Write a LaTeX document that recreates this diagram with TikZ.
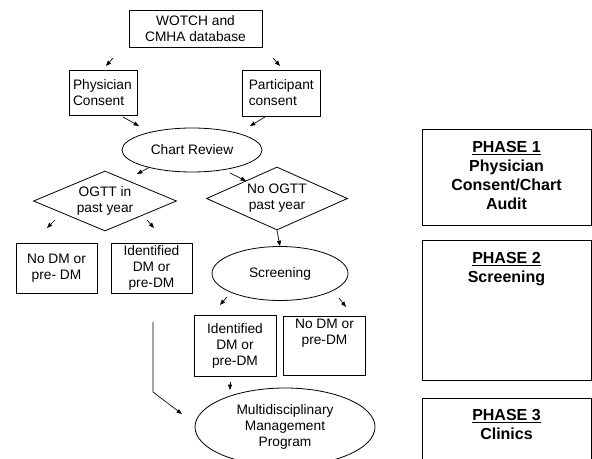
\documentclass[tikz,border=0pt]{standalone}
\usepackage{fontspec}
\setmainfont{Liberation Sans}
\usetikzlibrary{shapes.geometric,arrows.meta}

\tikzset{
  box/.style={draw, line width=0.6pt, inner sep=0pt, align=center},
  oval/.style={draw, ellipse, line width=0.6pt, inner sep=0pt, align=center},
  choice/.style={draw, diamond, aspect=2.4, line width=0.6pt, inner sep=0pt, align=center},
  phasebox/.style={draw, line width=0.6pt, minimum width=126.75pt},
  phasetext/.style={font=\fontsize{12}{14.25}\selectfont\bfseries, align=center, anchor=north},
  arr/.style={line width=0.5pt, -{Triangle[length=4pt,width=3pt]}}
}

\begin{document}
\begin{tikzpicture}[x=0.75pt,y=-0.75pt, font=\fontsize{10.3}{12}\selectfont]
\useasboundingbox (0,0) rectangle (592,459);

% flow chart
\node[box, minimum width=99.75pt, minimum height=27.75pt] (db) at (195.5,28.5) {WOTCH and\\CMHA database};
\node[box, minimum width=51pt, minimum height=33.75pt, text width=45pt, align=left] (phys) at (103,92.5) {Physician\\Consent};
\node[box, minimum width=58.5pt, minimum height=34.5pt, text width=49pt, align=left] (part) at (281.5,93) {Participant\\consent};
\node[oval, minimum width=105pt, minimum height=33pt] (chart) at (192,150) {Chart Review};
\node[choice, minimum width=107.25pt, minimum height=45pt] (ogtt) at (105,201) {OGTT in\\past year};
\node[choice, minimum width=105.75pt, minimum height=47.25pt] (noogtt) at (277,198.5) {No OGTT\\past year};
\node[oval, minimum width=102pt, minimum height=40.5pt] (screen) at (280,273.5) {Screening};
\node[box, minimum width=60.75pt, minimum height=37.5pt] (nodmA) at (56.5,268) {No DM or\\pre- DM};
\node[box, minimum width=60.75pt, minimum height=37.5pt] (idA) at (151.5,268) {Identified\\DM or\\pre-DM};
\node[box, minimum width=61.5pt, minimum height=45.75pt] (idB) at (235,345.5) {Identified\\DM or\\pre-DM};
\node[box, minimum width=61.5pt, minimum height=44.25pt] (nodmB) at (324.5,345.5) {\parbox[t][40pt][t]{60pt}{\centering No DM or\\pre-DM}};
\node[oval, minimum width=135pt, minimum height=58.5pt] (mdp) at (285,427) {Multidisciplinary\\Management\\Program};

% short arrows
\foreach \n/\xa/\ya/\xb/\yb in {1/113/58/106/66, 2/273/58/280/66, 3/123/117/139/126, 4/265/117/250/126,
  5/150/167/137/174, 6/230/173/246/181, 7/55/220/47/228, 8/147/220/154/228,
  9/227/297/220/305, 10/339/298/346/307, 11/230/382/230/390}
{
  \coordinate (s\n) at (\xa,\ya);
  \coordinate (e\n) at (\xb,\yb);
  \draw[arr] (s\n) -- (e\n);
}
\draw[arr] (noogtt.south) -- (screen.north);
\coordinate (lineA) at (153,322);
\coordinate (lineB) at (153,392);
\coordinate (lineC) at (182,414);
\draw[arr] (lineA) -- (lineB) -- (lineC);

% phases
\node[phasebox, minimum height=72pt] (phaseA) at (506.5,177) {};
\node[phasetext] (phaseAtext) at ([yshift=-6pt]phaseA.north) {\underline{PHASE 1}\\Physician\\Consent/Chart\\Audit};
\node[phasebox, minimum height=105pt] (phaseB) at (506.5,310) {};
\node[phasetext] (phaseBtext) at ([yshift=-6pt]phaseB.north) {\underline{PHASE 2}\\Screening};
\node[phasebox, minimum height=60pt] (phaseC) at (506.5,438) {};
\node[phasetext] (phaseCtext) at ([yshift=-5pt]phaseC.north) {\underline{PHASE 3}\\Clinics};
\end{tikzpicture}
\end{document}
